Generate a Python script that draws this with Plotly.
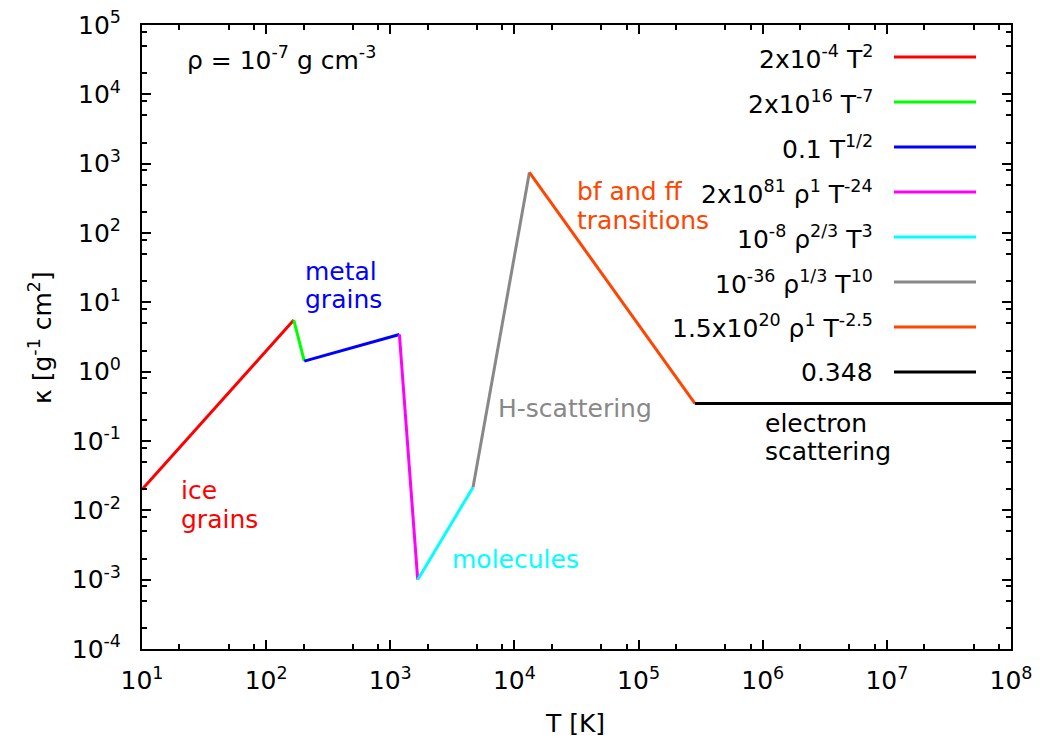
import plotly.graph_objects as go

# ---- data (segment break points of the opacity law) ----
T_break = [10, 167, 203, 1184, 1663, 4642, 13200, 284000, 1e8]
kappa_break = [0.02, 5.56, 1.42, 3.44, 0.001, 0.0215, 748, 0.348, 0.348]

series_names = [
    "2x10<sup>-4</sup> T<sup>2</sup>",
    "2x10<sup>16</sup> T<sup>-7</sup>",
    "0.1 T<sup>1/2</sup>",
    "2x10<sup>81</sup> ρ<sup>1</sup> T<sup>-24</sup>",
    "10<sup>-8</sup> ρ<sup>2/3</sup> T<sup>3</sup>",
    "10<sup>-36</sup> ρ<sup>1/3</sup> T<sup>10</sup>",
    "1.5x10<sup>20</sup> ρ<sup>1</sup> T<sup>-2.5</sup>",
    "0.348",
]
series_colors = ["#ff0000", "#00ff00", "#0000ff", "#ff00ff",
                 "#00ffff", "#888888", "#ff4500", "#000000"]

x_tick_exp = [1, 2, 3, 4, 5, 6, 7, 8]
y_tick_exp = [-4, -3, -2, -1, 0, 1, 2, 3, 4, 5]
minor_mult = [2, 5, 8]

region_text = [["ice", "grains"], ["metal", "grains"], ["molecules"],
               ["H-scattering"], ["bf and ff", "transitions"],
               ["electron", "scattering"]]
region_colors = ["#ff0000", "#0000ff", "#00ffff", "#888888", "#ff4500", "#000000"]

# ---- layout helpers (pixel geometry of the plot frame, page coordinates) ----
W, H = 1051, 742
OFF = 8  # default body margin of the html page
L, R, TOP, BOT = 142, 1011, 25, 649
PW, PH = R - L, BOT - TOP


def px(x):
    return (x - L) / PW


def py(y):
    return (BOT - y) / PH


FONT = "DejaVu Sans, Liberation Sans, Arial, sans-serif"
FS = 25

fig = go.Figure()
for i, (name, col) in enumerate(zip(series_names, series_colors)):
    fig.add_trace(go.Scatter(
        x=T_break[i:i + 2], y=kappa_break[i:i + 2], mode="lines",
        line=dict(color=col, width=3), name=name, showlegend=False))

x_ticks = [10.0 ** e for e in x_tick_exp]
y_ticks = [10.0 ** e for e in y_tick_exp]
x_minor = [m * 10.0 ** e for e in x_tick_exp[:-1] for m in minor_mult]
y_minor = [m * 10.0 ** e for e in y_tick_exp[:-1] for m in minor_mult]

axis_common = dict(
    type="log", showline=True, linecolor="black", linewidth=2, mirror="ticks",
    ticks="inside", ticklen=9, tickwidth=1.5, tickcolor="black",
    showgrid=False, zeroline=False, automargin=False, ticklabeloverflow="allow",
    tickfont=dict(family=FONT, size=FS, color="black"),
)
fig.update_xaxes(range=[1, 8], tickmode="array", tickvals=x_ticks,
                 ticktext=[f"10<sup>{e}</sup>" for e in x_tick_exp],
                 minor=dict(tickmode="array", tickvals=x_minor, ticks="inside",
                            ticklen=5, tickwidth=1.5, tickcolor="black"),
                 ticklabelstandoff=8, **axis_common)
fig.update_yaxes(range=[-4, 5], tickmode="array", tickvals=y_ticks,
                 ticktext=[f"10<sup>{e}</sup>" for e in y_tick_exp],
                 minor=dict(tickmode="array", tickvals=y_minor, ticks="inside",
                            ticklen=5, tickwidth=1.5, tickcolor="black"),
                 ticklabelstandoff=14, **axis_common)

ann = []
shapes = []
# legend (text right-aligned, sample line to the right)
legend_rows = [57, 102, 147, 192, 237, 282, 327, 372]
for name, col, ry in zip(series_names, series_colors, legend_rows):
    ann.append(dict(x=px(875), y=py(ry), xref="paper", yref="paper", text=name,
                    showarrow=False, xanchor="right", yanchor="middle",
                    font=dict(family=FONT, size=FS, color="black")))
    shapes.append(dict(type="line", xref="paper", yref="paper",
                       x0=px(894), x1=px(976), y0=py(ry), y1=py(ry),
                       line=dict(color=col, width=3)))

# density note
ann.append(dict(x=px(185), y=py(58), xref="paper", yref="paper",
                text="ρ = 10<sup>-7</sup> g cm<sup>-3</sup>", showarrow=False,
                xanchor="left", yanchor="middle",
                font=dict(family=FONT, size=FS, color="black")))

# region labels (one annotation per text line)
region_pos = [(179, [490, 519]), (303, [271, 299]), (450, [559]),
              (496, [408]), (575, [191, 220]), (763, [423, 451])]
for lines, col, (lx, ys) in zip(region_text, region_colors, region_pos):
    for t, yy in zip(lines, ys):
        ann.append(dict(x=px(lx), y=py(yy), xref="paper", yref="paper", text=t,
                        showarrow=False, xanchor="left", yanchor="middle",
                        font=dict(family=FONT, size=FS, color=col)))

# axis titles
ann.append(dict(x=px(40), y=py(338), xref="paper", yref="paper",
                text="κ [g<sup>-1</sup> cm<sup>2</sup>]", textangle=-90,
                showarrow=False, xanchor="center", yanchor="middle",
                font=dict(family=FONT, size=FS, color="black")))
ann.append(dict(x=px(575), y=py(723), xref="paper", yref="paper",
                text="T [K]", showarrow=False, xanchor="center", yanchor="middle",
                font=dict(family=FONT, size=FS, color="black")))

fig.update_layout(
    width=W - OFF, height=H - OFF,
    margin=dict(l=L - OFF, r=W - R, t=TOP - OFF, b=H - BOT),
    paper_bgcolor="white", plot_bgcolor="white",
    annotations=ann, shapes=shapes, showlegend=False,
)
fig.write_html("out.html")
